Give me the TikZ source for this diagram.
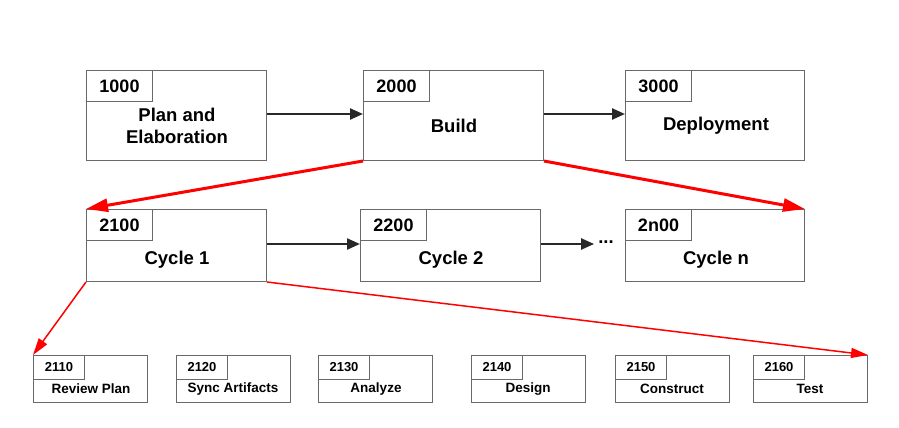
\documentclass[tikz,border=0pt]{standalone}
\usepackage{fontspec}
\setmainfont{Liberation Sans}
\usetikzlibrary{arrows.meta}
\definecolor{boxline}{RGB}{105,105,105}
\definecolor{arrgray}{RGB}{40,40,40}
\begin{document}
\begin{tikzpicture}[x=1pt,y=-1pt,
  bigbox/.style={draw=boxline,line width=1pt,minimum width=180pt,minimum height=90pt,inner sep=0pt,anchor=north west},
  midbox/.style={draw=boxline,line width=1pt,minimum width=180pt,minimum height=72pt,inner sep=0pt,anchor=north west},
  smallbox/.style={draw=boxline,line width=1pt,minimum width=114pt,minimum height=47pt,inner sep=0pt,anchor=north west},
  biglab/.style={draw=boxline,line width=1pt,minimum width=66pt,minimum height=31pt,inner sep=0pt,anchor=north west,font=\bfseries\fontsize{18}{20}\selectfont},
  smalllab/.style={draw=boxline,line width=1pt,minimum width=51pt,minimum height=24pt,inner sep=0pt,anchor=north west,font=\bfseries\fontsize{13}{15}\selectfont},
  bigtxt/.style={font=\bfseries\fontsize{18.5}{22}\selectfont,align=center,inner sep=0pt},
  smalltxt/.style={font=\bfseries\fontsize{13.5}{15}\selectfont,inner sep=0pt},
  blackarr/.style={draw=arrgray,line width=2.3pt,-{Triangle[length=13pt,width=11pt]}},
  redarr/.style={draw=red,line width=3pt,-{Triangle[length=22pt,width=13pt]}},
  redthin/.style={draw=red,line width=1.5pt,-{Triangle[length=17pt,width=10pt]}}]
\useasboundingbox (0,0) rectangle (899,428);
% top row
\node[bigbox] (b1000) at (86,70) {};
\node[biglab] (l1000) at (b1000.north west) {1000};
\node[bigtxt] (t1000) at (177,126) {Plan and\\Elaboration};
\node[bigbox] (b2000) at (363,70) {};
\node[biglab] (l2000) at (b2000.north west) {2000};
\node[bigtxt] (t2000) at (454,126) {Build};
\node[bigbox,minimum width=179pt] (b3000) at (625,70) {};
\node[biglab] (l3000) at (b3000.north west) {3000};
\node[bigtxt] (t3000) at (716,126) {Deployment};
% middle row
\node[midbox] (b2100) at (86,209) {};
\node[biglab] (l2100) at (b2100.north west) {2100};
\node[bigtxt] (t2100) at (177,260) {Cycle 1};
\node[midbox] (b2200) at (360,209) {};
\node[biglab] (l2200) at (b2200.north west) {2200};
\node[bigtxt] (t2200) at (451,260) {Cycle 2};
\node[midbox,minimum width=179pt] (b2n00) at (625,209) {};
\node[biglab] (l2n00) at (b2n00.north west) {2n00};
\node[bigtxt] (t2n00) at (716,260) {Cycle n};
\node[bigtxt] (dots) at (606,242) {...};
% bottom row
\node[smallbox] (b2110) at (33,355) {};
\node[smalllab] (l2110) at (b2110.north west) {2110};
\node[smalltxt] (t2110) at (91,389) {Review Plan};
\node[smallbox] (b2120) at (176,355) {};
\node[smalllab] (l2120) at (b2120.north west) {2120};
\node[smalltxt] (t2120) at (233,389) {Sync Artifacts};
\node[smallbox] (b2130) at (318,355) {};
\node[smalllab] (l2130) at (b2130.north west) {2130};
\node[smalltxt] (t2130) at (376,389) {Analyze};
\node[smallbox] (b2140) at (471,355) {};
\node[smalllab] (l2140) at (b2140.north west) {2140};
\node[smalltxt] (t2140) at (528,389) {Design};
\node[smallbox] (b2150) at (615,355) {};
\node[smalllab] (l2150) at (b2150.north west) {2150};
\node[smalltxt] (t2150) at (672,389) {Construct};
\node[smallbox] (b2160) at (753,355) {};
\node[smalllab] (l2160) at (b2160.north west) {2160};
\node[smalltxt] (t2160) at (810,389) {Test};
% connectors
\draw[blackarr] (b1000.east |- 0,114) -- (b2000.west |- 0,114);
\draw[blackarr] (b2000.east |- 0,114) -- (b3000.west |- 0,114);
\draw[blackarr] (b2100.east |- 0,244) -- (b2200.west |- 0,244);
\draw[blackarr] (b2200.east |- 0,244) -- ([xshift=-4pt]dots.west |- 0,244);
\draw[redarr] (b2000.south west) -- (b2100.north west);
\draw[redarr] (b2000.south east) -- (b2n00.north east);
\draw[redthin] (b2100.south west) -- (b2110.north west);
\draw[redthin] (b2100.south east) -- (b2160.north east);
\end{tikzpicture}
\end{document}
